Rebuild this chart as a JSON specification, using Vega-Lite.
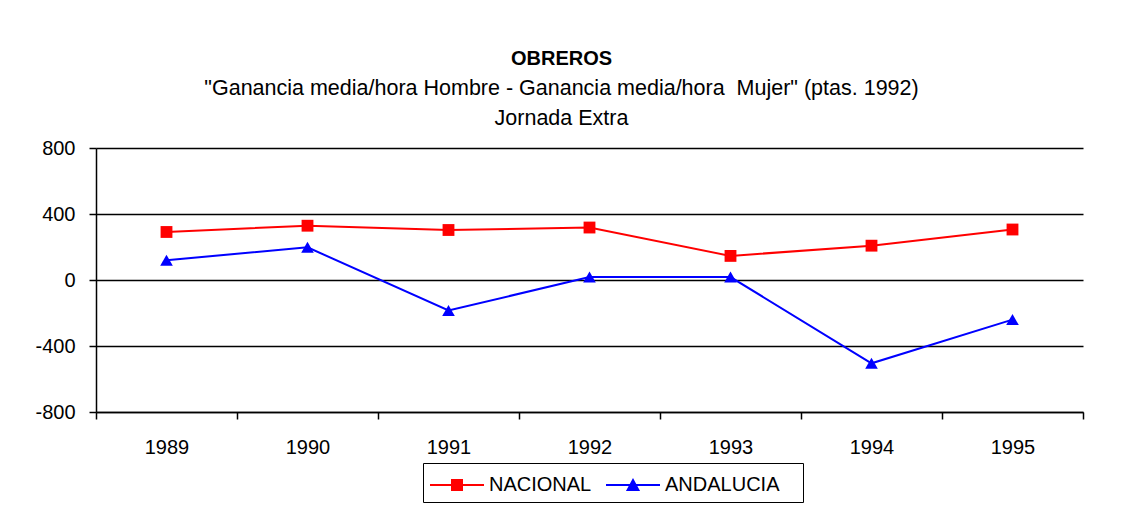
{
  "$schema": "https://vega.github.io/schema/vega-lite/v6.json",
  "width": 987,
  "height": 264,
  "autosize": {"type": "none"},
  "padding": {"left": 96, "top": 148, "right": 40, "bottom": 105},
  "background": "white",
  "config": {
    "font": "Liberation Sans",
    "view": {"stroke": null},
    "axis": {"labelFont": "Liberation Sans", "labelFontSize": 20, "labelColor": "black", "domainColor": "black", "tickColor": "black", "gridColor": "black"},
    "legend": {"labelFont": "Liberation Sans", "labelFontSize": 20, "labelColor": "black", "labelLimit": 600, "symbolSize": 900, "symbolStrokeWidth": 0, "labelOffset": 29, "padding": 7, "direction": "horizontal", "orient": "none"}
  },
  "title": {
    "text": "OBREROS",
    "subtitle": ["\"Ganancia media/hora Hombre - Ganancia media/hora \u00a0Mujer\" (ptas. 1992)", "Jornada Extra"],
    "anchor": "middle",
    "dx": -28,
    "font": "Liberation Sans",
    "fontSize": 20,
    "fontWeight": "bold",
    "color": "black",
    "subtitleFont": "Liberation Sans",
    "subtitleFontSize": 21.5,
    "subtitleColor": "black",
    "subtitleLineHeight": 30,
    "subtitlePadding": 9,
    "offset": 9
  },
  "data": {
    "values": [
      {"year": "1989", "series": "NACIONAL", "value": 291},
      {"year": "1990", "series": "NACIONAL", "value": 329},
      {"year": "1991", "series": "NACIONAL", "value": 303},
      {"year": "1992", "series": "NACIONAL", "value": 318},
      {"year": "1993", "series": "NACIONAL", "value": 146},
      {"year": "1994", "series": "NACIONAL", "value": 208},
      {"year": "1995", "series": "NACIONAL", "value": 306},
      {"year": "1989", "series": "ANDALUCIA", "value": 120},
      {"year": "1990", "series": "ANDALUCIA", "value": 198},
      {"year": "1991", "series": "ANDALUCIA", "value": -185},
      {"year": "1992", "series": "ANDALUCIA", "value": 18},
      {"year": "1993", "series": "ANDALUCIA", "value": 18},
      {"year": "1994", "series": "ANDALUCIA", "value": -505},
      {"year": "1995", "series": "ANDALUCIA", "value": -240}
    ]
  },
  "encoding": {
    "x": {
      "field": "year",
      "type": "ordinal",
      "scale": {"paddingInner": 0, "paddingOuter": 0},
      "axis": {"title": null, "labelAngle": 0, "tickBand": "extent", "tickSize": 7, "labelPadding": 18, "domainWidth": 1.5, "tickWidth": 1.5, "grid": false}
    },
    "y": {
      "field": "value",
      "type": "quantitative",
      "scale": {"domain": [-800, 800], "nice": false},
      "axis": {"title": null, "values": [-800, -400, 0, 400, 800], "labelExpr": "toString(datum.value)", "tickSize": 7, "labelPadding": 14, "grid": true, "gridWidth": 1.5, "domainWidth": 1.5, "tickWidth": 1.5}
    }
  },
  "layer": [
    {
      "transform": [{"filter": "datum.series === 'NACIONAL'"}],
      "encoding": {
        "color": {
          "field": "series",
          "type": "nominal",
          "scale": {"domain": ["NACIONAL"], "range": ["#ff0000"]},
          "legend": {
            "title": null,
            "legendX": 327,
            "legendY": 315,
            "symbolType": "M-1,-0.07H2.6V0.07H-1Z M0.4,-0.4H1.2V0.4H0.4Z",
            "symbolFillColor": "#ff0000",
            "strokeColor": "black",
            "labelExpr": "datum.label + '\u00a0\u00a0\u00a0\u00a0\u00a0\u00a0\u00a0\u00a0\u00a0\u00a0\u00a0\u00a0\u00a0\u00a0\u00a0\u00a0\u00a0\u00a0\u00a0\u00a0\u00a0\u00a0\u00a0\u00a0\u00a0\u00a0\u00a0\u00a0\u00a0\u00a0\u00a0\u00a0\u00a0\u00a0\u2800'"
          }
        }
      },
      "layer": [
        {"mark": {"type": "line", "strokeWidth": 2}},
        {"mark": {"type": "point", "shape": "square", "filled": true, "opacity": 1, "size": 140}}
      ]
    },
    {
      "transform": [{"filter": "datum.series === 'ANDALUCIA'"}],
      "encoding": {
        "color": {
          "field": "series",
          "type": "nominal",
          "scale": {"domain": ["ANDALUCIA"], "range": ["#0000ff"]},
          "legend": {
            "title": null,
            "legendX": 503,
            "legendY": 315,
            "symbolType": "M-1,-0.07H2.6V0.07H-1Z M0.8,-0.47L1.27,0.4H0.33Z",
            "symbolFillColor": "#0000ff"
          }
        }
      },
      "layer": [
        {"mark": {"type": "line", "strokeWidth": 2}},
        {"mark": {"type": "point", "shape": "triangle-up", "filled": true, "opacity": 1, "size": 160}}
      ]
    }
  ],
  "resolve": {"scale": {"color": "independent"}, "legend": {"color": "independent"}}
}
